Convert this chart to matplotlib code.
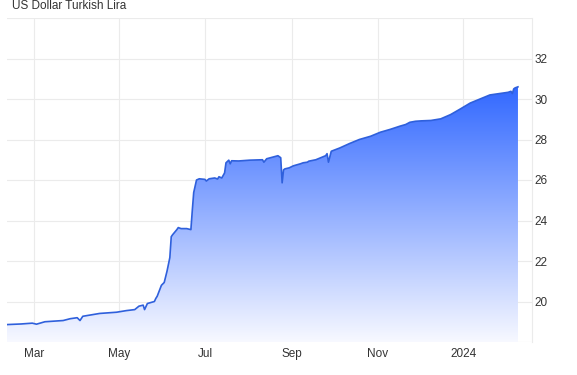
"""
plot.py
─────────────────────────
USD/TRY one-year area chart with a vertical blue gradient fill.
"""

from __future__ import annotations

import matplotlib
matplotlib.use("Agg")

import matplotlib.dates as mdates
import matplotlib.pyplot as plt
import numpy as np
import pandas as pd
from matplotlib.colors import LinearSegmentedColormap

plt.rcParams["font.family"] = ["Liberation Sans", "DejaVu Sans"]

# ── Data ──────────────────────────────────────────────────────────────────────
DATES = [
    "2023-02-10", "2023-02-20", "2023-02-28", "2023-03-03", "2023-03-09",
    "2023-03-22", "2023-03-27", "2023-04-01", "2023-04-03", "2023-04-05",
    "2023-04-17", "2023-04-29", "2023-05-06", "2023-05-12", "2023-05-15",
    "2023-05-18", "2023-05-19", "2023-05-21", "2023-05-26", "2023-05-27",
    "2023-05-28", "2023-05-31", "2023-06-02", "2023-06-04", "2023-06-06",
    "2023-06-07", "2023-06-08", "2023-06-11", "2023-06-12", "2023-06-14",
    "2023-06-18", "2023-06-21", "2023-06-22", "2023-06-23", "2023-06-25",
    "2023-06-27", "2023-07-01", "2023-07-02", "2023-07-04", "2023-07-08",
    "2023-07-10", "2023-07-11", "2023-07-13", "2023-07-15", "2023-07-16",
    "2023-07-18", "2023-07-19", "2023-07-20", "2023-07-25", "2023-08-02",
    "2023-08-11", "2023-08-12", "2023-08-14", "2023-08-21", "2023-08-22",
    "2023-08-24", "2023-08-25", "2023-08-26", "2023-08-27", "2023-08-30",
    "2023-09-02", "2023-09-07", "2023-09-09", "2023-09-12", "2023-09-13",
    "2023-09-18", "2023-09-25", "2023-09-26", "2023-09-27", "2023-09-29",
    "2023-10-05", "2023-10-12", "2023-10-19", "2023-10-27", "2023-11-03",
    "2023-11-10", "2023-11-17", "2023-11-21", "2023-11-24", "2023-11-28",
    "2023-12-02", "2023-12-09", "2023-12-16", "2023-12-23", "2023-12-30",
    "2024-01-06", "2024-01-13", "2024-01-20", "2024-01-27", "2024-02-02",
    "2024-02-04", "2024-02-05", "2024-02-06", "2024-02-07", "2024-02-09",
]
RATES = [
    18.86, 18.89, 18.93, 18.88, 19.00,
    19.06, 19.15, 19.20, 19.06, 19.27,
    19.41, 19.47, 19.55, 19.60, 19.77,
    19.82, 19.60, 19.90, 20.00, 20.15,
    20.26, 20.80, 20.94, 21.50, 22.17,
    23.20, 23.30, 23.55, 23.65, 23.60,
    23.60, 23.55, 24.50, 25.38, 26.00,
    26.06, 26.03, 25.95, 26.06, 26.10,
    26.05, 26.16, 26.10, 26.35, 26.85,
    26.98, 26.80, 26.95, 26.94, 26.98,
    27.00, 26.88, 27.05, 27.18, 27.20,
    27.10, 25.86, 26.50, 26.55, 26.60,
    26.70, 26.80, 26.85, 26.88, 26.93,
    27.00, 27.20, 27.30, 26.88, 27.42,
    27.58, 27.80, 28.00, 28.16, 28.36,
    28.50, 28.66, 28.74, 28.85, 28.90,
    28.92, 28.94, 29.02, 29.23, 29.51,
    29.80, 30.00, 30.20, 30.27, 30.33,
    30.38, 30.27, 30.50, 30.55, 30.60,
]

TITLE = "US Dollar Turkish Lira"
X_TICKS = ["2023-03-01", "2023-05-01", "2023-07-01", "2023-09-01",
           "2023-11-01", "2024-01-01"]
X_TICK_LABELS = ["Mar", "May", "Jul", "Sep", "Nov", "2024"]
Y_TICKS = [20, 22, 24, 26, 28, 30, 32]

# ── Visual constants ──────────────────────────────────────────────────────────
LINE_COLOR = "#2f60dc"
GRID_COLOR = "#ebebeb"
TEXT_COLOR = "#333333"
GRAD_TOP = (0.17, 0.39, 1.0)
GRAD_BOTTOM = (0.97, 0.975, 1.0)
Y_MIN, Y_MAX = 18, 34


def main() -> None:
    dates = pd.to_datetime(DATES)
    x = mdates.date2num(dates)
    y = np.array(RATES)

    fig = plt.figure(figsize=(5.77, 3.75), dpi=100)
    ax = fig.add_axes([7 / 577, 33 / 375, 525 / 577, 324 / 375])

    x_lo = mdates.date2num(pd.Timestamp("2023-02-10"))
    x_hi = mdates.date2num(pd.Timestamp("2024-02-19"))

    # gradient fill clipped to the area under the line
    poly = ax.fill_between(x, y, Y_MIN, color="none", linewidth=0)
    cmap = LinearSegmentedColormap.from_list("grad", [GRAD_BOTTOM, GRAD_TOP])
    grad = np.linspace(0, 1, 256).reshape(-1, 1)
    img = ax.imshow(grad, cmap=cmap, origin="lower", aspect="auto",
                    extent=[x[0], x[-1], Y_MIN, 31.0], zorder=1)
    img.set_clip_path(poly.get_paths()[0], transform=ax.transData)
    ax.set_xlim(x_lo, x_hi)
    ax.set_ylim(Y_MIN, Y_MAX)

    ax.plot(x, y, color=LINE_COLOR, linewidth=1.2, zorder=3)

    # grid and frame
    ax.set_yticks(np.arange(Y_MIN, Y_MAX + 1, 2))
    ax.set_yticklabels([str(v) if v in Y_TICKS else ""
                        for v in range(Y_MIN, Y_MAX + 1, 2)])
    ax.set_xticks(mdates.date2num(pd.to_datetime(X_TICKS)))
    ax.set_xticklabels(X_TICK_LABELS)
    ax.grid(True, color=GRID_COLOR, linewidth=0.8, zorder=0)
    ax.set_axisbelow(True)
    for side in ("left", "top", "bottom"):
        ax.spines[side].set_visible(False)
    ax.spines["right"].set_color(GRID_COLOR)
    ax.spines["right"].set_linewidth(0.8)

    ax.yaxis.tick_right()
    ax.tick_params(axis="y", length=0, pad=2, labelsize=8.5, labelcolor=TEXT_COLOR)
    ax.tick_params(axis="x", length=0, pad=4, labelsize=8.5, labelcolor=TEXT_COLOR)

    fig.text(12 / 577, 1 - 9 / 375, TITLE, fontsize=8.5, color=TEXT_COLOR,
             ha="left", va="baseline")

    fig.savefig("out.png", dpi=100)


if __name__ == "__main__":
    main()
